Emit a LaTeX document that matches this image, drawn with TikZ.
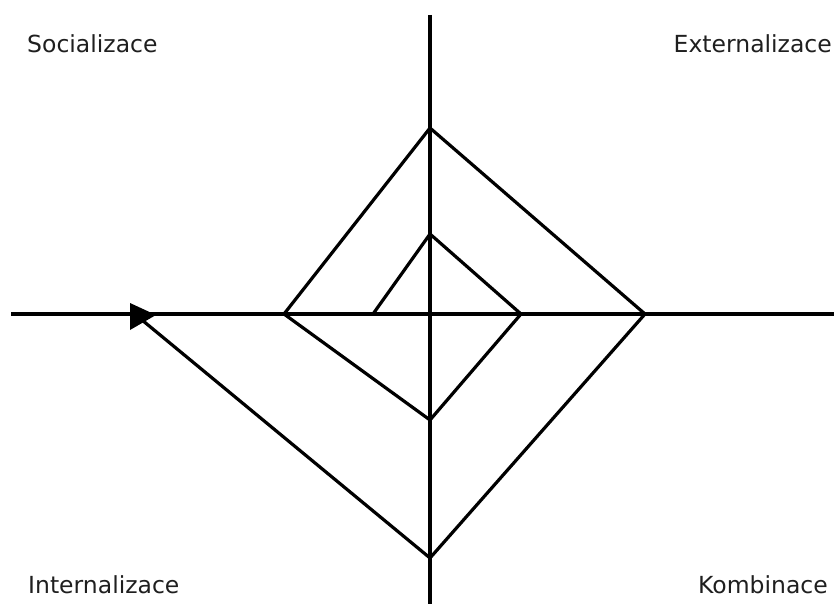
\documentclass[tikz,border=0pt]{standalone}
\usepackage{fontspec}
\setmainfont{DejaVu Sans}
\begin{document}
\begin{tikzpicture}[x=1pt,y=-1pt,
  axis/.style={line width=3.2pt},
  spiral/.style={line width=3.2pt, line join=miter},
  lbl/.style={font=\fontsize{23.5}{26}\selectfont, text=black!88, inner sep=0pt}]
\useasboundingbox (0,0) rectangle (834,604);
% axes
\coordinate (vt) at (430,15);
\coordinate (vb) at (430,604);
\coordinate (hl) at (11,314);
\coordinate (hr) at (834,314);
\draw[axis] (vt) -- (vb);
\draw[axis] (hl) -- (hr);
% spiral points
\coordinate (s0) at (373,314);
\coordinate (s1) at (430,234);
\coordinate (s2) at (521,314);
\coordinate (s3) at (430,420);
\coordinate (s4) at (284,314);
\coordinate (s5) at (430,128);
\coordinate (s6) at (645,314);
\coordinate (s7) at (430,558);
\coordinate (s8) at (142,320);
\draw[spiral] (s0) -- (s1) -- (s2) -- (s3) -- (s4) -- (s5) -- (s6) -- (s7) -- (s8);
% arrowhead
\coordinate (a1) at (130,303);
\coordinate (a2) at (130,330);
\coordinate (a3) at (156,315);
\fill (a1) -- (a3) -- (a2) -- cycle;
% labels
\node[lbl, anchor=base west] (soc) at (27,53) {Socializace};
\node[lbl, anchor=base east] (ext) at (832,53) {Externalizace};
\node[lbl, anchor=base west] (int) at (28,593) {Internalizace};
\node[lbl, anchor=base east] (kom) at (828,593) {Kombinace};
\end{tikzpicture}
\end{document}
